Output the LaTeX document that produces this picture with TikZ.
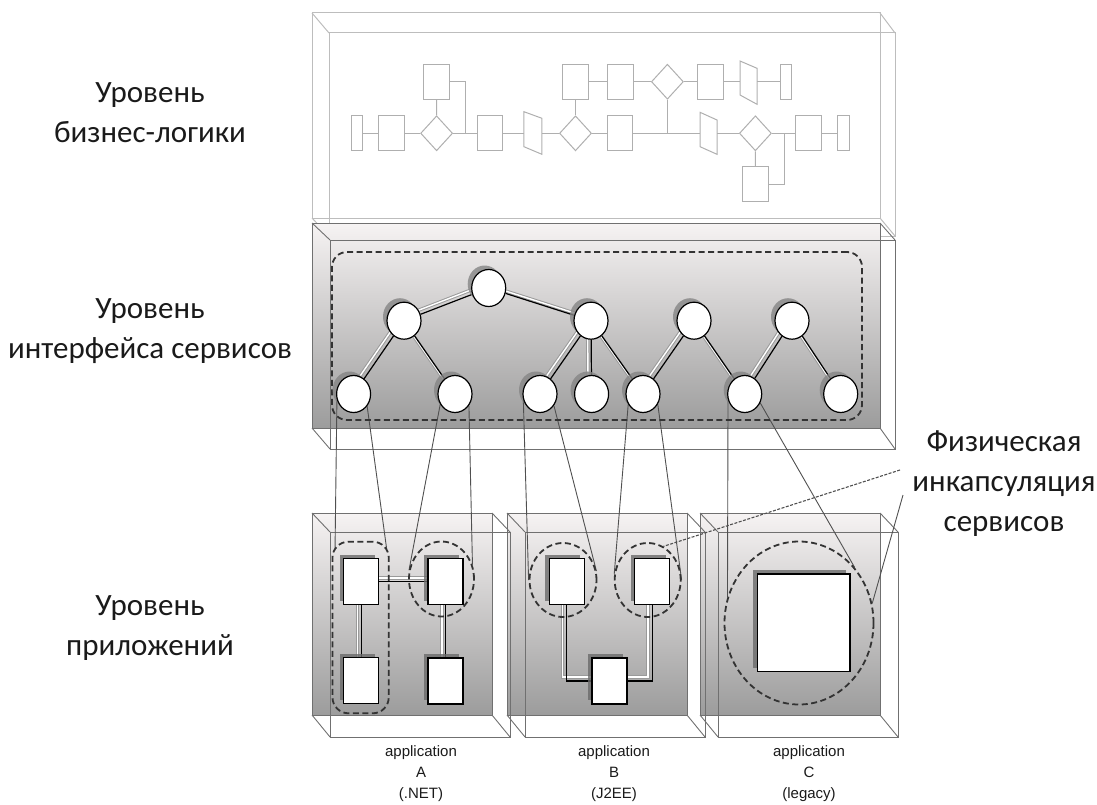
\documentclass[tikz,border=0pt]{standalone}
\usepackage{fontspec}
\setmainfont{Carlito}
\newfontfamily\appfont{Liberation Sans}
\usetikzlibrary{shapes.geometric,calc,shadows}
\pgfdeclarelayer{bg}
\pgfdeclarelayer{edges}
\pgfsetlayers{bg,edges,main}
\definecolor{boxline}{HTML}{707070}
\definecolor{topline}{HTML}{BDBDBD}
\definecolor{flowline}{HTML}{AFAFAF}
\definecolor{shadetop}{HTML}{F6F3F3}
\definecolor{shadebot}{HTML}{9C9C9C}
\definecolor{circshadow}{HTML}{858585}
\definecolor{boxshadow}{HTML}{6A6A6A}
\definecolor{railgray}{HTML}{9A9A9A}
\definecolor{wireline}{HTML}{505050}
\definecolor{dashline}{HTML}{333333}
\definecolor{txt}{HTML}{1A1A1A}
\newcommand\cubebox[9]{%
  \draw[#1] (#2,#3) rectangle (#4,#5);
  \draw[#1] (#6,#7) rectangle (#8,#9);
  \draw[#1] (#2,#3) -- (#6,#7) (#4,#3) -- (#8,#7) (#2,#5) -- (#6,#9) (#4,#5) -- (#8,#9);}
\newcommand\railedge[2]{%
  \draw[railsh] ([shift={(-3.5,-3.5)}]#1.center) -- ([shift={(-3.5,-3.5)}]#2.center);
  \draw[railin] ([shift={(-3.5,-3.5)}]#1.center) -- ([shift={(-3.5,-3.5)}]#2.center);
  \draw[railblk] (#1) -- (#2);}
\begin{document}
\begin{tikzpicture}[x=1pt,y=-1pt,
  fr/.style={rectangle, draw=flowline, line width=1pt, minimum width=25.5pt, minimum height=35pt, inner sep=0pt},
  fs/.style={fr, minimum width=11.5pt},
  fd/.style={diamond, draw=flowline, line width=1pt, minimum width=32pt, minimum height=35pt, inner sep=0pt},
  flow/.style={draw=flowline, line width=1pt},
  svc/.style={ellipse, draw=black, line width=1.2pt, fill=white, minimum width=34pt, minimum height=37pt, inner sep=0pt,
    drop shadow={shadow xshift=-4pt, shadow yshift=4pt, opacity=0.8, fill=circshadow}},
  appbox/.style={rectangle, draw=black, line width=1.2pt, fill=white, minimum width=35pt, minimum height=46pt, inner sep=0pt,
    drop shadow={shadow xshift=-4pt, shadow yshift=4pt, opacity=0.8, fill=boxshadow}},
  encap/.style={draw=dashline, dash pattern=on 6pt off 3.5pt, line width=1.8pt, inner sep=0pt},
  railsh/.style={draw=railgray, line width=3.4pt},
  railin/.style={draw=white, line width=1.4pt},
  railblk/.style={draw=black, line width=1.2pt},
  wire/.style={draw=wireline, line width=0.9pt},
  calldash/.style={draw=wireline, line width=1.1pt, dash pattern=on 3pt off 1.5pt},
  lev/.style={align=center, font=\fontsize{31}{40}\selectfont, inner sep=0pt, text=txt},
  applbl/.style={align=center, font=\appfont\fontsize{15}{21}\selectfont, inner sep=0pt, text=txt},
  topbox/.style={draw=topline, line width=1pt},
  cube/.style={draw=boxline, line width=0.9pt}
]
\useasboundingbox (0,0) rectangle (1097,805);

% ---------- boxes (background) ----------
\begin{pgfonlayer}{bg}
  \cubebox{topbox}{312}{13}{880}{218}{329}{33}{895}{236}
  \shade[top color=shadetop, bottom color=shadebot] (312,223) rectangle (880,428);
  \cubebox{cube}{312}{223}{880}{428}{330}{240}{895}{449}
  \shade[top color=shadetop, bottom color=shadebot] (312,513) rectangle (492,715);
  \shade[top color=shadetop, bottom color=shadebot] (507,513) rectangle (687,715);
  \shade[top color=shadetop, bottom color=shadebot] (700,513) rectangle (880,715);
  \cubebox{cube}{312}{513}{492}{715}{330}{532}{510}{737}
  \cubebox{cube}{507}{513}{687}{715}{525}{532}{705}{737}
  \cubebox{cube}{700}{513}{880}{715}{718}{532}{898}{737}
\end{pgfonlayer}

% ---------- business logic flowchart ----------
\node[fs] (s1) at (357,133.3) {};
\node[fr] (r1) at (391.3,133.3) {};
\node[fd] (d1) at (436.6,133.3) {};
\node[fr] (u1) at (436.5,81.7) {};
\node[fr] (r2) at (489.8,133.3) {};
\node[fd] (d2) at (575.5,133.3) {};
\node[fr] (u2) at (575.5,81.7) {};
\node[fr] (r3) at (620.2,133.3) {};
\node[fr] (r5) at (620.5,81.7) {};
\node[fd] (d3) at (667.4,81.7) {};
\node[fr] (r6) at (710.5,81.7) {};
\node[fs] (s3) at (786,81.7) {};
\node[fd] (d4) at (755.4,133.3) {};
\node[fr] (l1) at (755.5,184.3) {};
\node[fr] (r4) at (808.5,133.3) {};
\node[fs] (s2) at (843.5,133.3) {};
\draw[flow] (523.9,111.7) -- (541.9,118.3) -- (541.9,154.3) -- (523.9,146.7) -- cycle;
\draw[flow] (700,112.3) -- (717,120) -- (717,154.3) -- (700,146.7) -- cycle;
\draw[flow] (740,61) -- (757,68.3) -- (757,104.3) -- (740,95) -- cycle;
\coordinate (p1w) at (523.9,133.3);
\coordinate (p1e) at (541.9,133.3);
\coordinate (p2w) at (700,133.3);
\coordinate (p2e) at (717,133.3);
\coordinate (p3w) at (740,81.7);
\coordinate (p3e) at (757,81.7);
\coordinate (j1) at (465.3,133.3);
\coordinate (j2) at (667.4,133.3);
\coordinate (j3) at (784,133.3);
\draw[flow] (s1) -- (r1);
\draw[flow] (r1) -- (d1);
\draw[flow] (d1) -- (r2);
\draw[flow] (d1) -- (u1);
\draw[flow] (u1.east) -| (j1);
\draw[flow] (r2) -- (p1w);
\draw[flow] (p1e) -- (d2);
\draw[flow] (d2) -- (u2);
\draw[flow] (d2) -- (r3);
\draw[flow] (r3) -- (p2w);
\draw[flow] (j2) -- (d3);
\draw[flow] (p2e) -- (d4);
\draw[flow] (d4) -- (r4);
\draw[flow] (d4) -- (l1);
\draw[flow] (l1.east) -| (j3);
\draw[flow] (r4) -- (s2);
\draw[flow] (u2) -- (r5);
\draw[flow] (r5) -- (d3);
\draw[flow] (d3) -- (r6);
\draw[flow] (r6) -- (p3w);
\draw[flow] (p3e) -- (s3);

% ---------- service interface level ----------
\node[encap, rectangle, rounded corners=15pt, minimum width=530pt, minimum height=168pt] (grp) at (597,336) {};
\node[svc] (t) at (488.7,288) {};
\node[svc] (m1) at (404,320.7) {};
\node[svc] (m2) at (591,320.7) {};
\node[svc] (m3) at (694,320.7) {};
\node[svc] (m4) at (792,320.7) {};
\node[svc] (b1) at (353.6,394) {};
\node[svc] (b2) at (455,394) {};
\node[svc] (b3) at (540,394) {};
\node[svc] (b4) at (591.6,394) {};
\node[svc] (b5) at (643,394) {};
\node[svc] (b6) at (744.7,394) {};
\node[svc] (b7) at (840.7,394) {};
\begin{pgfonlayer}{edges}
  \railedge{t}{m1}
  \railedge{t}{m2}
  \railedge{m1}{b1}
  \railedge{m1}{b2}
  \railedge{m2}{b3}
  \railedge{m2}{b4}
  \railedge{m2}{b5}
  \railedge{m3}{b5}
  \railedge{m3}{b6}
  \railedge{m4}{b6}
  \railedge{m4}{b7}
\end{pgfonlayer}

% ---------- application level ----------
\node[encap, rectangle, rounded corners=16pt, minimum width=56.3pt, minimum height=171.6pt] (ga) at (360.6,627.5) {};
\node[encap, ellipse, minimum width=65pt, minimum height=75pt] (ea) at (441.5,579) {};
\node[encap, ellipse, minimum width=67pt, minimum height=74pt] (eb1) at (563,580) {};
\node[encap, ellipse, minimum width=66pt, minimum height=74pt] (eb2) at (647.7,580) {};
\node[encap, ellipse, minimum width=149pt, minimum height=163pt] (ec) at (799,623) {};

\node[appbox] (a1) at (361.2,581.5) {};
\node[appbox] (a2) at (361.2,680.5) {};
\node[appbox] (a3) at (445.5,581.5) {};
\node[appbox] (a4) at (445.5,681) {};
\node[appbox] (bb1) at (566.7,581.5) {};
\node[appbox] (bb2) at (652.1,581.5) {};
\node[appbox] (bb3) at (609.4,681) {};
\node[appbox, minimum width=92.7pt, minimum height=97.7pt] (cc) at (803.6,622.8) {};

\begin{pgfonlayer}{edges}
  \railedge{a1}{a3}
  \railedge{a1}{a2}
  \railedge{a3}{a4}
  \draw[railsh] ([shift={(-4,-4)}]bb1.center) |- ([shift={(-4,-4)}]bb3.center);
  \draw[railin] ([shift={(-4,-4)}]bb1.center) |- ([shift={(-4,-4)}]bb3.center);
  \draw[railblk] (bb1.south) |- (bb3.west);
  \draw[railsh] ([shift={(-4,-4)}]bb2.center) |- ([shift={(-4,-4)}]bb3.center);
  \draw[railin] ([shift={(-4,-4)}]bb2.center) |- ([shift={(-4,-4)}]bb3.center);
  \draw[railblk] (bb2.south) |- (bb3.east);
  % wires from services to applications
  \draw[wire] (b1.200) -- ($(ga.north west)+(3.5,7)$);
  \draw[wire] (b1.-42) -- ($(ga.north east)+(-3,8)$);
  \draw[wire] (b2.215) -- (ea.165);
  \draw[wire] (b2.-40) -- (ea.25);
  \draw[wire] (b3.200) -- (eb1.180);
  \draw[wire] (b3.-40) -- (eb1.15);
  \draw[wire] (b5.215) -- (eb2.170);
  \draw[wire] (b5.-35) -- (eb2.0);
  \draw[wire] (b6.200) -- (ec.160);
  \draw[wire] (b6.-30) -- (ec.45);
\end{pgfonlayer}

% ---------- callout ----------
\coordinate (cl1) at (900,470);
\coordinate (cl2) at (903,495);
\draw[calldash] (cl1) -- (eb2.65);
\draw[wire] (cl2) -- (ec.15);

% ---------- labels ----------
\node[lev] (lev1) at (150,113) {Уровень\\бизнес-логики};
\node[lev] (lev2) at (150,331) {Уровень\\интерфейса сервисов};
\node[lev] (lev3) at (150,628) {Уровень\\приложений};
\node[lev] (phys) at (1004,484) {Физическая\\инкапсуляция\\сервисов};
\node[applbl] (lblA) at (421,774) {application\\A\\(.NET)};
\node[applbl] (lblB) at (614,774) {application\\B\\(J2EE)};
\node[applbl] (lblC) at (809,774) {application\\C\\(legacy)};
\end{tikzpicture}
\end{document}
